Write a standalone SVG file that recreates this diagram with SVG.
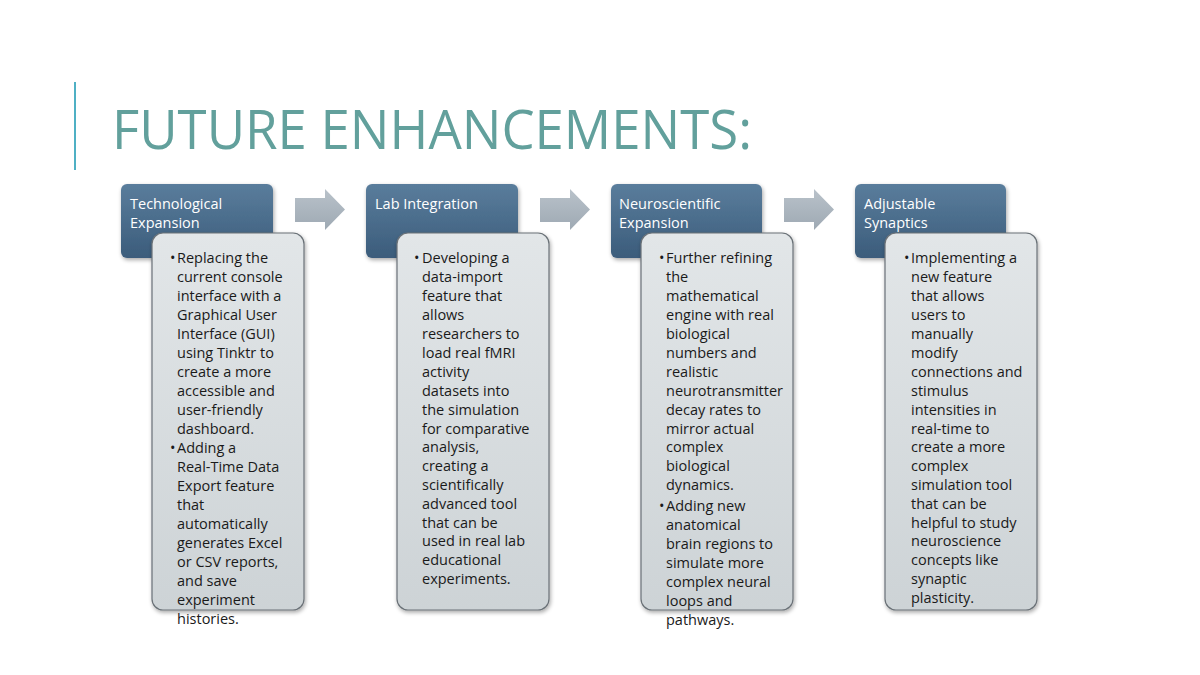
<svg xmlns="http://www.w3.org/2000/svg" width="1200" height="675" viewBox="0 0 1200 675">
<defs>
  <linearGradient id="hdr" x1="0" y1="0" x2="0" y2="1">
    <stop offset="0" stop-color="#5a7d9c"/>
    <stop offset="1" stop-color="#3b5c7b"/>
  </linearGradient>
  <linearGradient id="bdy" x1="0" y1="0" x2="0" y2="1">
    <stop offset="0" stop-color="#e2e6e8"/>
    <stop offset="1" stop-color="#cdd3d6"/>
  </linearGradient>
  <linearGradient id="arr" x1="0" y1="0" x2="0" y2="1">
    <stop offset="0" stop-color="#b9c2ca"/>
    <stop offset="1" stop-color="#9ea9b3"/>
  </linearGradient>
  <filter id="sh" x="-10%" y="-10%" width="130%" height="130%">
    <feGaussianBlur in="SourceAlpha" stdDeviation="2"/>
    <feOffset dx="1" dy="2" result="b"/>
    <feComponentTransfer><feFuncA type="linear" slope="0.35"/></feComponentTransfer>
    <feMerge><feMergeNode/><feMergeNode in="SourceGraphic"/></feMerge>
  </filter>
</defs>
<style>
  .hdr { fill: url(#hdr); filter: url(#sh); }
  .bdy { fill: url(#bdy); stroke: #6a7177; stroke-width: 1.2; filter: url(#sh); }
  .arr { fill: url(#arr); }
  .ht { font-family: "Open Sans", "Liberation Sans", sans-serif; font-size: 14.5px; fill: #ffffff; }
  .bt { font-family: "Open Sans", "Liberation Sans", sans-serif; font-size: 14.5px; fill: #1a1a1a; }
  .title { font-family: "Open Sans", "Liberation Sans", sans-serif; font-size: 55px; fill: #62a09c; }
</style>
<rect width="1200" height="675" fill="#ffffff"/>
<line x1="75" y1="82" x2="75" y2="170" stroke="#4fb0c4" stroke-width="2"/>
<text class="title" x="112" y="149" textLength="640" lengthAdjust="spacingAndGlyphs">FUTURE ENHANCEMENTS:</text>

<g id="connectors">
  <path class="arr" d="M295,198 H325 V189 L345,209.5 L325,230 V222 H295 Z"/>
  <path class="arr" d="M540,198 H570 V189 L590,209.5 L570,230 V222 H540 Z"/>
  <path class="arr" d="M784,198 H814 V189 L834,209.5 L814,230 V222 H784 Z"/>
</g>

<g id="node1">
  <rect class="hdr" x="121" y="184" width="152" height="74" rx="6"/>
  <text class="ht" x="130" y="209">Technological</text>
  <text class="ht" x="130" y="228">Expansion</text>
  <rect class="bdy" x="152" y="233" width="152" height="377" rx="11"/>
  <text class="bt" x="170" y="263">•</text>
  <text class="bt" x="177" y="263">Replacing the</text>
  <text class="bt" x="177" y="282">current console</text>
  <text class="bt" x="177" y="301">interface with a</text>
  <text class="bt" x="177" y="320">Graphical User</text>
  <text class="bt" x="177" y="339">Interface (GUI)</text>
  <text class="bt" x="177" y="358">using Tinktr to</text>
  <text class="bt" x="177" y="377">create a more</text>
  <text class="bt" x="177" y="396">accessible and</text>
  <text class="bt" x="177" y="415">user-friendly</text>
  <text class="bt" x="177" y="434">dashboard.</text>
  <text class="bt" x="170" y="453">•</text>
  <text class="bt" x="177" y="453">Adding a</text>
  <text class="bt" x="177" y="472">Real-Time Data</text>
  <text class="bt" x="177" y="491">Export feature</text>
  <text class="bt" x="177" y="510">that</text>
  <text class="bt" x="177" y="529">automatically</text>
  <text class="bt" x="177" y="548">generates Excel</text>
  <text class="bt" x="177" y="567">or CSV reports,</text>
  <text class="bt" x="177" y="586">and save</text>
  <text class="bt" x="177" y="605">experiment</text>
  <text class="bt" x="177" y="624">histories.</text>
</g>

<g id="node2">
  <rect class="hdr" x="366" y="184" width="152" height="74" rx="6"/>
  <text class="ht" x="375" y="209">Lab Integration</text>
  <rect class="bdy" x="397" y="233" width="152" height="377" rx="11"/>
  <text class="bt" x="414" y="263">•</text>
  <text class="bt" x="422" y="263">Developing a</text>
  <text class="bt" x="422" y="282">data-import</text>
  <text class="bt" x="422" y="301">feature that</text>
  <text class="bt" x="422" y="320">allows</text>
  <text class="bt" x="422" y="339">researchers to</text>
  <text class="bt" x="422" y="358">load real fMRI</text>
  <text class="bt" x="422" y="377">activity</text>
  <text class="bt" x="422" y="396">datasets into</text>
  <text class="bt" x="422" y="415">the simulation</text>
  <text class="bt" x="422" y="434">for comparative</text>
  <text class="bt" x="422" y="452">analysis,</text>
  <text class="bt" x="422" y="471">creating a</text>
  <text class="bt" x="422" y="490">scientifically</text>
  <text class="bt" x="422" y="509">advanced tool</text>
  <text class="bt" x="422" y="528">that can be</text>
  <text class="bt" x="422" y="546">used in real lab</text>
  <text class="bt" x="422" y="565">educational</text>
  <text class="bt" x="422" y="584">experiments.</text>
</g>

<g id="node3">
  <rect class="hdr" x="611" y="184" width="151" height="74" rx="6"/>
  <text class="ht" x="619" y="209">Neuroscientific</text>
  <text class="ht" x="619" y="228">Expansion</text>
  <rect class="bdy" x="641" y="233" width="152" height="377" rx="11"/>
  <text class="bt" x="659" y="263">•</text>
  <text class="bt" x="666" y="263">Further refining</text>
  <text class="bt" x="666" y="282">the</text>
  <text class="bt" x="666" y="301">mathematical</text>
  <text class="bt" x="666" y="320">engine with real</text>
  <text class="bt" x="666" y="339">biological</text>
  <text class="bt" x="666" y="358">numbers and</text>
  <text class="bt" x="666" y="377">realistic</text>
  <text class="bt" x="666" y="396">neurotransmitter</text>
  <text class="bt" x="666" y="415">decay rates to</text>
  <text class="bt" x="666" y="434">mirror actual</text>
  <text class="bt" x="666" y="452">complex</text>
  <text class="bt" x="666" y="471">biological</text>
  <text class="bt" x="666" y="490">dynamics.</text>
  <text class="bt" x="659" y="511">•</text>
  <text class="bt" x="666" y="511">Adding new</text>
  <text class="bt" x="666" y="530">anatomical</text>
  <text class="bt" x="666" y="549">brain regions to</text>
  <text class="bt" x="666" y="568">simulate more</text>
  <text class="bt" x="666" y="587">complex neural</text>
  <text class="bt" x="666" y="606">loops and</text>
  <text class="bt" x="666" y="625">pathways.</text>
</g>

<g id="node4">
  <rect class="hdr" x="855" y="184" width="151" height="74" rx="6"/>
  <text class="ht" x="864" y="209">Adjustable</text>
  <text class="ht" x="864" y="228">Synaptics</text>
  <rect class="bdy" x="885" y="233" width="152" height="377" rx="11"/>
  <text class="bt" x="904" y="263">•</text>
  <text class="bt" x="911" y="263">Implementing a</text>
  <text class="bt" x="911" y="282">new feature</text>
  <text class="bt" x="911" y="301">that allows</text>
  <text class="bt" x="911" y="320">users to</text>
  <text class="bt" x="911" y="339">manually</text>
  <text class="bt" x="911" y="358">modify</text>
  <text class="bt" x="911" y="377">connections and</text>
  <text class="bt" x="911" y="396">stimulus</text>
  <text class="bt" x="911" y="415">intensities in</text>
  <text class="bt" x="911" y="434">real-time to</text>
  <text class="bt" x="911" y="452">create a more</text>
  <text class="bt" x="911" y="471">complex</text>
  <text class="bt" x="911" y="490">simulation tool</text>
  <text class="bt" x="911" y="509">that can be</text>
  <text class="bt" x="911" y="528">helpful to study</text>
  <text class="bt" x="911" y="546">neuroscience</text>
  <text class="bt" x="911" y="565">concepts like</text>
  <text class="bt" x="911" y="584">synaptic</text>
  <text class="bt" x="911" y="603">plasticity.</text>
</g>
</svg>
